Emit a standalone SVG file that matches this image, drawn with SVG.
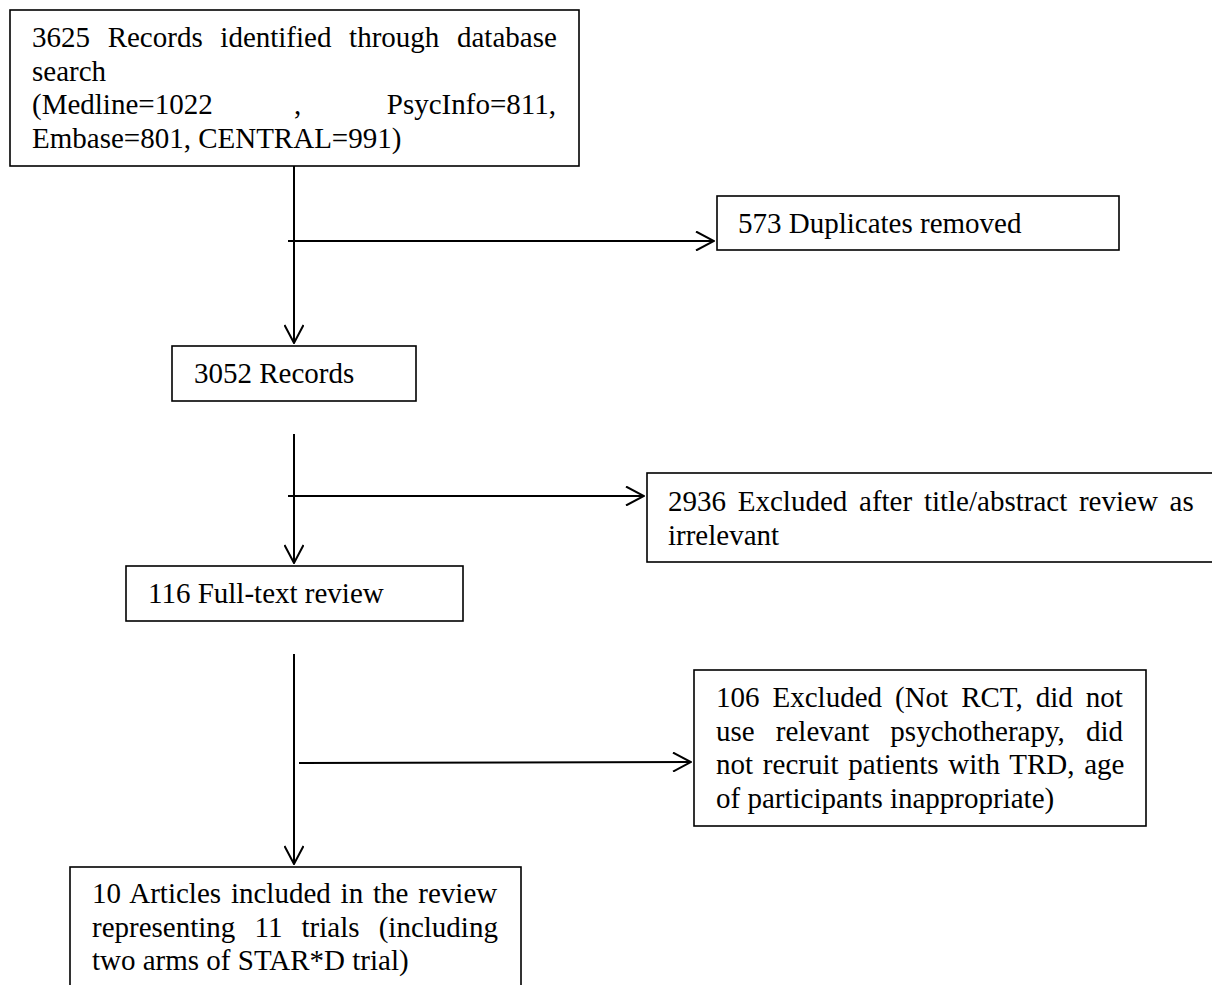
<svg xmlns="http://www.w3.org/2000/svg" width="1212" height="985" viewBox="0 0 1212 985">
<defs>
<style>
.box{fill:#fff;stroke:#000;stroke-width:1.6}
.t{font-family:"Liberation Serif","Times New Roman",serif;font-size:29px;fill:#000}
.c{fill:none;stroke:#000;stroke-width:2}
</style>
<marker id="arr" viewBox="0 0 20 20" markerWidth="20" markerHeight="20" refX="19" refY="10" markerUnits="userSpaceOnUse" orient="auto">
<path d="M1,0.5 L19,10 L1,19.5" fill="none" stroke="#000" stroke-width="2"/>
</marker>
</defs>
<rect width="1212" height="985" fill="#fff"/>
<g id="connectors">
<line class="c" x1="294" y1="159" x2="294" y2="343" marker-end="url(#arr)"/>
<line class="c" x1="288" y1="241" x2="714" y2="241" marker-end="url(#arr)"/>
<line class="c" x1="294" y1="434" x2="294" y2="563" marker-end="url(#arr)"/>
<line class="c" x1="288" y1="496" x2="644" y2="496" marker-end="url(#arr)"/>
<line class="c" x1="294" y1="654" x2="294" y2="864" marker-end="url(#arr)"/>
<line class="c" x1="299" y1="763" x2="691" y2="762" marker-end="url(#arr)"/>
</g>
<g id="node-identified">
<rect class="box" x="10" y="10" width="569" height="156"/>
<text class="t" x="32" y="47" word-spacing="10.4">3625 Records identified through database</text>
<text class="t" x="32" y="80.5">search</text>
<text class="t" y="114"><tspan x="32">(Medline=1022</tspan><tspan x="294">,</tspan><tspan x="386.8">PsycInfo=811,</tspan></text>
<text class="t" x="32" y="147.5">Embase=801, CENTRAL=991)</text>
</g>
<g id="node-duplicates">
<rect class="box" x="717" y="196" width="402" height="54"/>
<text class="t" x="738" y="233">573 Duplicates removed</text>
</g>
<g id="node-records">
<rect class="box" x="172" y="346" width="244" height="55"/>
<text class="t" x="194" y="383">3052 Records</text>
</g>
<g id="node-excluded-title">
<rect class="box" x="647" y="473" width="580" height="89"/>
<text class="t" x="668" y="511" word-spacing="4.5">2936 Excluded after title/abstract review as</text>
<text class="t" x="668" y="544.5">irrelevant</text>
</g>
<g id="node-fulltext">
<rect class="box" x="126" y="566" width="337" height="55"/>
<text class="t" x="148" y="603">116 Full-text review</text>
</g>
<g id="node-excluded-full">
<rect class="box" x="694" y="670" width="452" height="156"/>
<text class="t" x="716" y="707" word-spacing="5.75">106 Excluded (Not RCT, did not</text>
<text class="t" x="716" y="740.5" word-spacing="13.9">use relevant psychotherapy, did</text>
<text class="t" x="716" y="774" word-spacing="2.55">not recruit patients with TRD, age</text>
<text class="t" x="716" y="807.5">of participants inappropriate)</text>
</g>
<g id="node-included">
<rect class="box" x="70" y="867" width="451" height="140"/>
<text class="t" x="92" y="903" word-spacing="2.6">10 Articles included in the review</text>
<text class="t" x="92" y="936.5" word-spacing="11.9">representing 11 trials (including</text>
<text class="t" x="92" y="970">two arms of STAR*D trial)</text>
</g>
</svg>
